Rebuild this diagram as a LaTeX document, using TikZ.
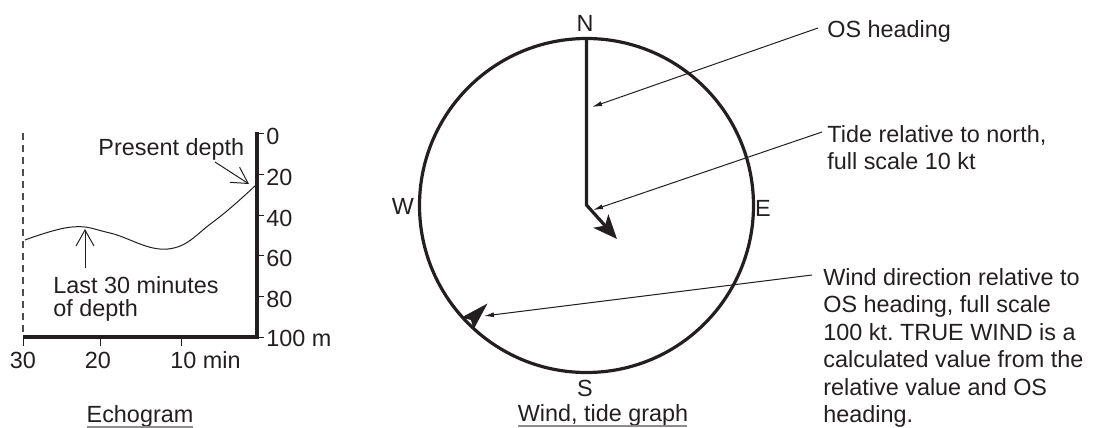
\documentclass[tikz,border=0pt]{standalone}
\usepackage{fontspec}
\setmainfont{Liberation Sans}
\usetikzlibrary{arrows.meta,calc}
\definecolor{ink}{HTML}{231F20}
\frenchspacing
\begin{document}
\begin{tikzpicture}[x=0.5pt,y=-0.5pt,
  txt/.style={inner sep=0pt,text=ink,font=\fontsize{11.7}{13.75}\selectfont},
  echotxt/.style={inner sep=0pt,text=ink,font=\fontsize{11.7}{11.7}\selectfont},
  axisline/.style={draw=ink,line width=2pt},
  thinline/.style={draw=ink,line width=0.5pt},
  dashline/.style={draw=ink!80,line width=0.6pt,dash pattern=on 3.5pt off 2.5pt},
  openarrow/.style={thinline,-{Straight Barb[length=8pt,width=9pt]}},
  leader/.style={thinline,-{Latex[length=5pt,width=2.5pt]}},
  heavy/.style={draw=ink,line width=1.6pt},
  titleline/.style={draw=black!45,line width=0.6pt}]
\useasboundingbox (0,0) rectangle (1094,428);

% ---------------- Echogram ----------------
\coordinate (axTop) at (257,132);
\coordinate (axCorner) at (257,337);
\coordinate (axLeft) at (23,337);
\coordinate (dashTop) at (23,133);
\draw[dashline] (dashTop) -- (axLeft);
\draw[axisline,line join=miter] (axTop) -- (axCorner) -- (axLeft);

\foreach \v/\y in {0/133,20/174,40/215,60/255,80/296} {
  \coordinate (tk\v) at (258,\y);
  \draw[thinline] (tk\v) -- ++(6,0);
  \node[txt,anchor=west] (lb\v) at (266,\y+3) {\v};
}
\coordinate (tk100) at (258,337);
\draw[thinline] (tk100) -- ++(6,0);
\node[txt,anchor=west] (lb100) at (266,338) {100 m};

\foreach \n/\x in {b30/23,b20/100,b10/181} {
  \coordinate (\n) at (\x,339);
  \draw[thinline] (\n) -- ++(0,7);
}
\node[txt,anchor=base] (l30) at (23,368) {30};
\node[txt,anchor=base] (l20) at (98,368) {20};
\node[txt,anchor=base west] (l10) at (170,368) {10 min};

\draw[thinline] plot[smooth,tension=0.7] coordinates
  {(25,240) (72,227) (110,233) (168,249) (213,222) (256,185)};

\node[txt,anchor=base west] (present) at (98,155) {Present depth};
\coordinate (presentFrom) at (215,162);
\coordinate (presentTip) at (249,184);
\draw[openarrow] (presentFrom) -- (presentTip);

\node[echotxt,anchor=north west,align=left] (last) at (53,276) {Last 30 minutes\\of depth};
\coordinate (lastFrom) at (85,268);
\coordinate (lastTip) at (85,229);
\draw[openarrow] (lastFrom) -- (lastTip);

\node[txt,anchor=base] (echo) at (140,422) {Echogram};
\coordinate (eu1) at (87,427);
\coordinate (eu2) at (193,427);
\draw[titleline] (eu1) -- (eu2);

% ---------------- Wind, tide graph ----------------
\coordinate (C) at (586.5,205.5);
\draw[heavy] (C) circle[radius=167];
\node[txt] (N) at (585,23) {N};
\node[txt] (S) at (585,388) {S};
\node[txt] (W) at (403,206) {W};
\node[txt] (E) at (763,208) {E};

\coordinate (hTop) at (586.5,39);
\coordinate (hBend) at (586.5,205);
\coordinate (tideTip) at (617,239);
\draw[heavy,line join=miter,-{Stealth[length=12pt,width=10pt,inset=3pt]}] (hTop) -- (hBend) -- (tideTip);

% wind marker on the ring
\coordinate (wTip) at (487.5,303.5);
\coordinate (wA) at (461.5,317.5);
\coordinate (wN) at (471,320);
\coordinate (wB) at (473.5,329.5);
\fill[ink] (wTip) -- (wA) -- (wN) -- (wB) -- cycle;

% leaders
\node[txt,anchor=base west] (os) at (827,38) {OS heading};
\coordinate (osFrom) at (818,28);
\coordinate (osTip) at (592,107);
\draw[leader] (osFrom) -- (osTip);

\node[txt,anchor=north west,align=left] (tide) at (827,125) {Tide relative to north,\\full scale 10 kt};
\coordinate (tideFrom) at (822,132);
\coordinate (tideLTip) at (593,210);
\draw[leader] (tideFrom) -- (tideLTip);

\node[txt,anchor=north west,align=left] (wind) at (823,268)
  {Wind direction relative to\\OS heading, full scale\\100 kt. TRUE WIND is a\\calculated value from the\\relative value and OS\\heading.};
\coordinate (windFrom) at (812,275);
\coordinate (windTip) at (484,316);
\draw[leader] (windFrom) -- (windTip);

\node[txt,anchor=base] (wtg) at (603,421) {Wind, tide graph};
\coordinate (wu1) at (518,426);
\coordinate (wu2) at (687,426);
\draw[titleline] (wu1) -- (wu2);
\end{tikzpicture}
\end{document}
